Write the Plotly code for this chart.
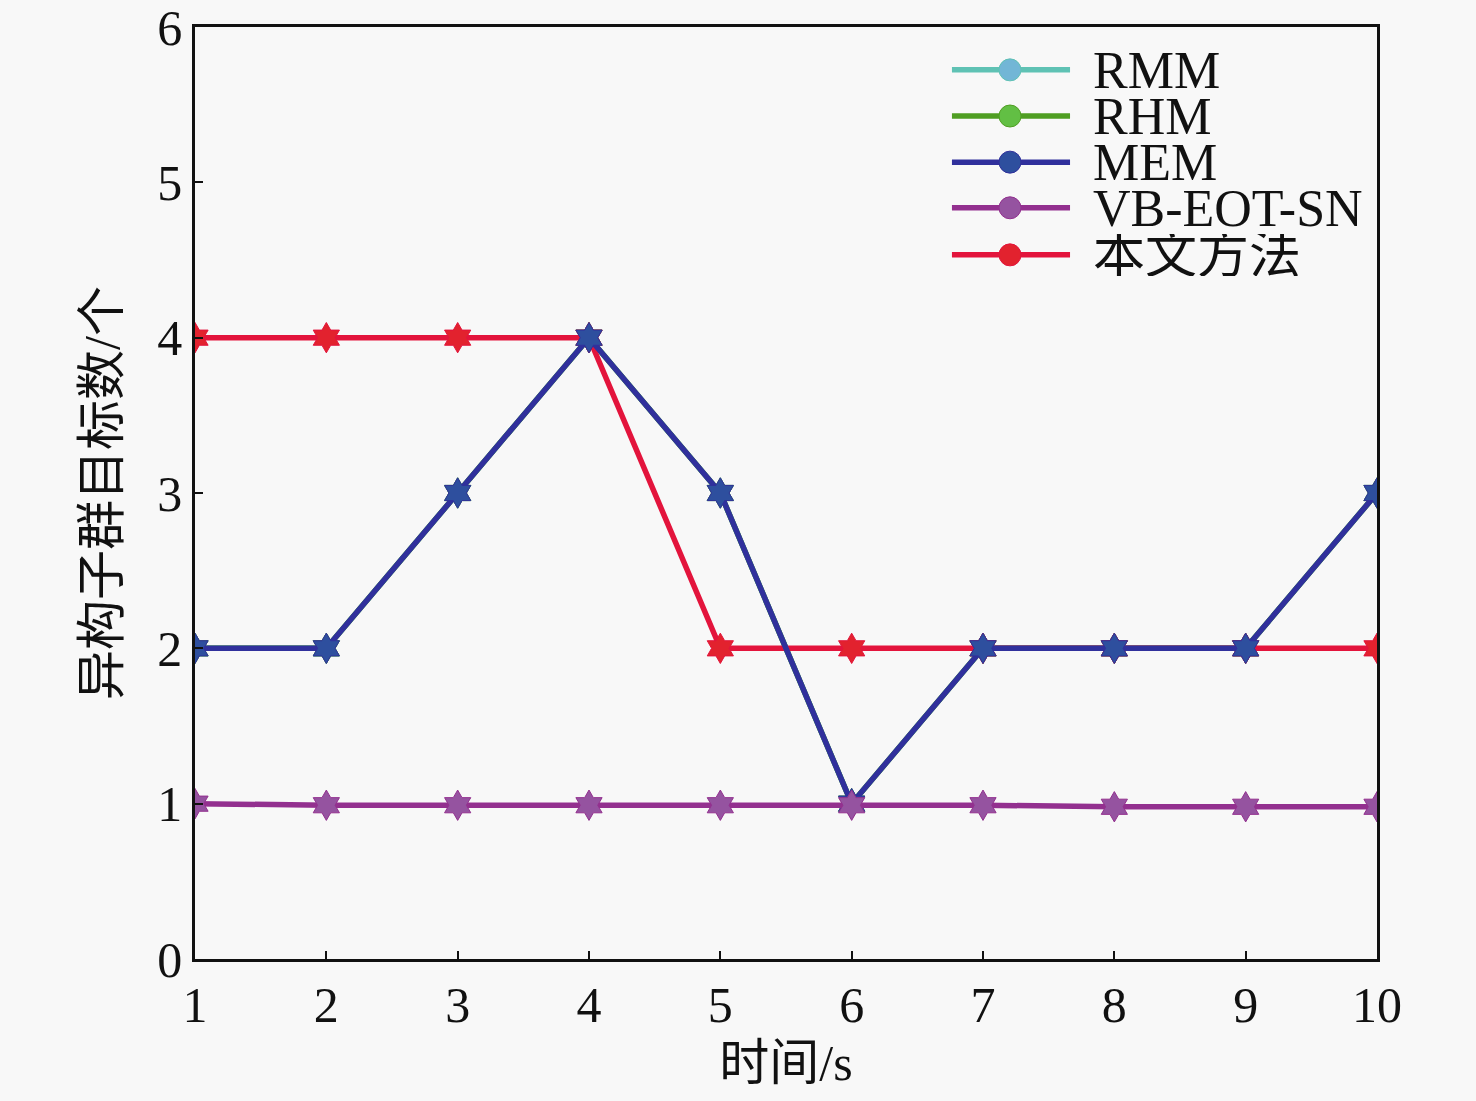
import plotly.graph_objects as go

# time steps and estimated subgroup counts per method
t = [1, 2, 3, 4, 5, 6, 7, 8, 9, 10]
rmm = [2, 2, 3, 4, 3, 1, 2, 2, 2, 3]
rhm = [2, 2, 3, 4, 3, 1, 2, 2, 2, 3]
mem = [2, 2, 3, 4, 3, 1, 2, 2, 2, 3]
vb_eot_sn = [1.0, 0.99, 0.99, 0.99, 0.99, 0.99, 0.99, 0.98, 0.98, 0.98]
ours = [4, 4, 4, 4, 2, 2, 2, 2, 2, 2]
y_ticks = [0, 1, 2, 3, 4, 5, 6]

names = ["RMM", "RHM", "MEM", "VB-EOT-SN", "本文方法"]
line_colors = ["#5fc2b4", "#4f9e22", "#30309c", "#93308f", "#e3143c"]
marker_colors = ["#72b6d6", "#62bf44", "#2e4f9e", "#9553a0", "#e2222e"]

FONT = "Liberation Serif, 'Noto Sans CJK SC'"
BG = "#f8f8f8"

series = dict(zip(names, [rmm, rhm, mem, vb_eot_sn, ours]))
style = {n: (lc, mc) for n, lc, mc in zip(names, line_colors, marker_colors)}

fig = go.Figure()

# drawing order: MEM sits on top of the red curve in the picture
for n in ["RMM", "RHM", "本文方法", "MEM", "VB-EOT-SN"]:
    lc, mc = style[n]
    fig.add_trace(go.Scatter(
        x=t, y=series[n], mode="lines+markers", name=n,
        line=dict(color=lc, width=5.5),
        marker=dict(symbol="hexagram", size=23, color=mc,
                    line=dict(color=lc, width=1)),
    ))

# hand-made legend, the original has long line samples
legend_y = [0.954, 0.9045, 0.855, 0.806, 0.7555]
for n, ly in zip(names, legend_y):
    lc, mc = style[n]
    fig.add_shape(type="line", xref="paper", yref="paper",
                  x0=0.6404, x1=0.7403, y0=ly, y1=ly,
                  line=dict(color=lc, width=5.5))
    fig.add_shape(type="circle", xref="paper", yref="paper",
                  xsizemode="pixel", ysizemode="pixel",
                  xanchor=0.6895, yanchor=ly,
                  x0=-11, x1=11, y0=-11, y1=11,
                  fillcolor=mc, line=dict(color=lc, width=1))
    fig.add_annotation(x=0.7589, y=ly, xref="paper", yref="paper",
                       xanchor="left", yanchor="middle", showarrow=False,
                       height=42, valign="middle", borderpad=0,
                       text=n, font=dict(family=FONT, size=52, color="#111111"))

axis_common = dict(
    showline=True, linecolor="#111111", linewidth=2.5, mirror=True,
    ticks="inside", ticklen=8, tickwidth=2, tickcolor="#111111",
    showgrid=False, zeroline=False, ticklabeloverflow="allow",
    automargin=False,
    tickfont=dict(family=FONT, size=50, color="#111111"),
)

fig.update_xaxes(range=[1, 10], tickvals=t,
                 title=dict(text="时间/s", standoff=14,
                            font=dict(family=FONT, size=50, color="#111111")),
                 **axis_common)
fig.update_yaxes(range=[0, 6], tickvals=y_ticks,
                 title=dict(text="异构子群目标数/个", standoff=22,
                            font=dict(family=FONT, size=50, color="#111111")),
                 **axis_common)

# page body keeps its 8px margin, so the figure is a bit smaller than the window
fig.update_layout(
    width=1460, height=1085,
    margin=dict(l=187, r=91, t=19, b=134),
    paper_bgcolor=BG, plot_bgcolor=BG,
    showlegend=False,
    font=dict(family=FONT, size=50, color="#111111"),
)

fig.write_html("out.html", post_script="document.body.style.background='#f8f8f8';")
